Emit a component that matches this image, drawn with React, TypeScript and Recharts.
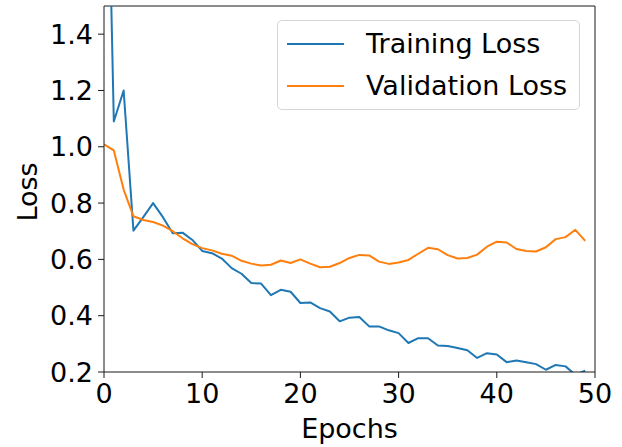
import React from 'react';
import { LineChart, Line, XAxis, YAxis, Legend, ReferenceLine } from 'recharts';

// Loss per epoch (epochs 0..49)
const epochs: number[] = Array.from({ length: 50 }, (_, i) => i);

const trainingLoss: number[] = [
  2.7, 1.09, 1.2, 0.702, 0.75, 0.8, 0.75, 0.693, 0.695, 0.669,
  0.63, 0.622, 0.603, 0.569, 0.549, 0.516, 0.514, 0.473, 0.492, 0.485,
  0.445, 0.447, 0.427, 0.415, 0.38, 0.393, 0.395, 0.362, 0.362, 0.348,
  0.338, 0.303, 0.32, 0.32, 0.294, 0.292, 0.285, 0.277, 0.25, 0.267,
  0.262, 0.235, 0.241, 0.235, 0.228, 0.208, 0.225, 0.22, 0.19, 0.205,
];

const validationLoss: number[] = [
  1.009, 0.987, 0.848, 0.753, 0.74, 0.733, 0.72, 0.7, 0.675, 0.654,
  0.64, 0.632, 0.62, 0.613, 0.595, 0.585, 0.578, 0.581, 0.596, 0.587,
  0.6, 0.585, 0.572, 0.574, 0.587, 0.605, 0.616, 0.614, 0.592, 0.584,
  0.589, 0.598, 0.62, 0.641, 0.636, 0.615, 0.603, 0.605, 0.617, 0.645,
  0.663, 0.66, 0.637, 0.63, 0.628, 0.643, 0.672, 0.679, 0.705, 0.666,
];

const xTicks: number[] = [0, 10, 20, 30, 40, 50];
const yTicks: number[] = [0.2, 0.4, 0.6, 0.8, 1.0, 1.2, 1.4];
const xDomain: [number, number] = [0, 50];
const yDomain: [number, number] = [0.2, 1.5];

const data = epochs.map((e, i) => ({
  epoch: e,
  train: trainingLoss[i],
  val: validationLoss[i],
}));

const FONT = '"DejaVu Sans", sans-serif';
const SPINE = '#1a1a1a';

const LegendBox = (props: any) => {
  const items = props.payload || [];
  return (
    <div
      style={{
        width: 303,
        height: 90,
        boxSizing: 'border-box',
        border: '1px solid #d6d6d6',
        borderRadius: 5,
        background: 'rgba(255,255,255,0.8)',
        position: 'relative',
        fontFamily: FONT,
        fontSize: 27,
        color: '#000',
      }}
    >
      {items.map((it: any, i: number) => (
        <div
          key={it.value}
          style={{
            position: 'absolute',
            left: 0,
            top: 4 + i * 41.5,
            height: 38,
            display: 'flex',
            alignItems: 'center',
            whiteSpace: 'nowrap',
          }}
        >
          <span
            style={{
              display: 'inline-block',
              marginLeft: 9,
              width: 57,
              height: 2,
              background: it.color,
            }}
          />
          <span style={{ marginLeft: 22, lineHeight: '38px' }}>{it.value}</span>
        </div>
      ))}
    </div>
  );
};

export default function App() {
  return (
    <div style={{ position: 'absolute', left: 0, top: 0, background: '#fff' }}>
      <LineChart
        width={622}
        height={447}
        data={data}
        margin={{ top: 6, right: 27, bottom: 0, left: 0 }}
      >
        <XAxis
          dataKey="epoch"
          type="number"
          domain={xDomain}
          ticks={xTicks}
          allowDataOverflow
          height={75}
          stroke={SPINE}
          tickSize={6}
          tickMargin={6}
          tick={{ fill: '#000', fontSize: 27, fontFamily: FONT }}
          label={{
            value: 'Epochs',
            position: 'insideBottom',
            offset: 9,
            fill: '#000',
            fontSize: 27,
            fontFamily: FONT,
          }}
        />
        <YAxis
          type="number"
          domain={yDomain}
          ticks={yTicks}
          allowDataOverflow
          width={104}
          stroke={SPINE}
          tickSize={6}
          tickMargin={5}
          tickFormatter={(v: number) => v.toFixed(1)}
          tick={{ fill: '#000', fontSize: 27, fontFamily: FONT }}
          label={{
            value: 'Loss',
            angle: -90,
            position: 'insideLeft',
            offset: 27,
            dy: 3,
            fill: '#000',
            fontSize: 27,
            fontFamily: FONT,
            style: { textAnchor: 'middle' },
          }}
        />
        {/* top and right frame edges */}
        <ReferenceLine y={yDomain[1]} stroke={SPINE} strokeWidth={1} ifOverflow="visible" />
        <ReferenceLine x={xDomain[1]} stroke={SPINE} strokeWidth={1} ifOverflow="visible" />
        <Legend
          layout="horizontal"
          verticalAlign="middle"
          align="center"
          wrapperStyle={{ left: 277, top: 20, width: 303 }}
          content={LegendBox}
        />
        <Line
          type="linear"
          dataKey="train"
          name="Training Loss"
          stroke="#1f77b4"
          strokeWidth={2}
          strokeLinejoin="round"
          dot={false}
          isAnimationActive={false}
        />
        <Line
          type="linear"
          dataKey="val"
          name="Validation Loss"
          stroke="#ff7f0e"
          strokeWidth={2}
          strokeLinejoin="round"
          dot={false}
          isAnimationActive={false}
        />
      </LineChart>
    </div>
  );
}
